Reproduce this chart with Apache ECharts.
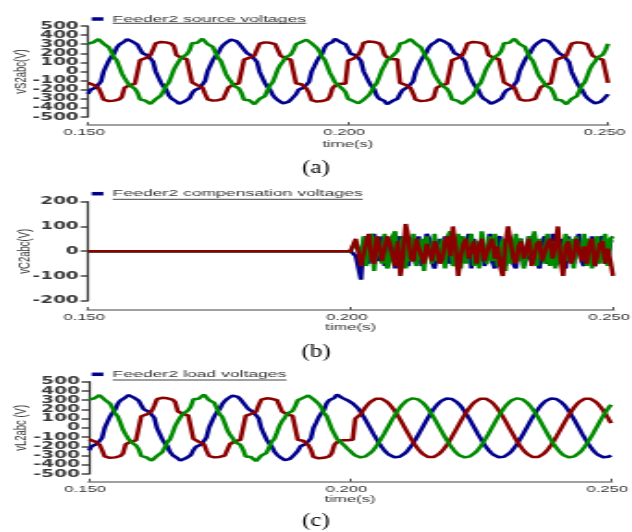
<!DOCTYPE html>
<html>
<head>
<meta charset="utf-8">
<script src="https://cdn.jsdelivr.net/npm/echarts@6.0.0/dist/echarts.min.js"></script>
<style>
html,body{margin:0;padding:0;background:#fff;overflow:hidden;}
#chart{width:341.62px;height:532px;transform:scaleX(1.85);transform-origin:0 0;}
</style>
</head>
<body>
<div id="chart"></div>
<script>
// ---- sampling grid (s) ----
const T0 = 0.150, DT = 0.0005, N = 201;
const xTicks = ['0.150', '0.200', '0.250'];

// ---- (a) Feeder2 source voltages ----
const vS2a = [
-245,-200,-185,-175,-165,-110,0,60,120,165,195,260,295,310,330,355,345,330,315,295,245,200,185,175,165,110,0,-60,-120,-165,-195,-260,-295,-310,-330,-355,-345,-330,-315,-295,
-240,-205,-190,-180,-160,-105,5,65,125,170,200,255,290,315,335,350,340,335,310,290,240,205,190,170,160,105,-5,-65,-125,-170,-200,-255,-290,-315,-335,-350,-340,-335,-310,-290,
-250,-200,-180,-175,-170,-115,0,55,115,160,190,265,300,305,325,360,350,325,320,300,250,195,180,180,170,115,0,-55,-115,-160,-190,-265,-300,-305,-325,-360,-350,-325,-320,-300,
-245,-205,-185,-170,-165,-110,0,60,120,165,200,260,295,310,330,355,345,330,315,295,245,200,185,175,165,110,0,-60,-120,-165,-195,-260,-295,-310,-330,-355,-345,-330,-315,-295,
-240,-205,-190,-180,-160,-105,5,65,125,170,200,255,290,315,335,350,340,335,310,290,240,205,190,170,160,105,-5,-65,-125,-170,-200,-255,-290,-315,-335,-350,-340,-335,-310,-290,
-250];
const vS2b = [
-125,-135,-145,-155,-180,-240,-310,-320,-325,-325,-320,-315,-305,-280,-180,-160,-150,-140,-135,-130,125,135,145,155,180,240,310,320,325,325,320,315,305,280,180,160,150,140,135,130,
-120,-130,-150,-160,-175,-245,-305,-325,-320,-330,-315,-320,-300,-285,-175,-165,-145,-145,-130,-125,130,140,150,160,175,245,305,325,320,330,315,320,300,285,175,165,145,145,130,125,
-130,-140,-140,-150,-185,-235,-315,-315,-330,-320,-325,-310,-310,-275,-185,-155,-155,-135,-140,-135,120,130,140,150,185,235,315,315,330,320,325,310,310,275,185,155,155,135,140,135,
-125,-135,-145,-155,-180,-240,-310,-320,-325,-325,-320,-315,-305,-280,-180,-160,-150,-140,-135,-130,125,135,145,155,180,240,310,320,325,325,320,315,305,280,180,160,150,140,135,130,
-120,-130,-150,-160,-175,-245,-305,-325,-320,-330,-315,-320,-300,-285,-175,-165,-145,-145,-130,-125,130,140,150,160,175,245,305,325,320,330,315,320,300,285,175,165,145,145,130,125,
-125];
const vS2c = [
305,315,320,325,355,350,305,285,265,215,155,125,55,-20,-70,-115,-150,-170,-190,-230,-305,-315,-320,-325,-355,-350,-305,-285,-265,-215,-155,-125,-55,20,70,115,150,170,190,230,
310,320,315,330,360,345,300,280,270,210,150,120,50,-25,-75,-110,-155,-175,-185,-235,-310,-320,-315,-330,-360,-345,-300,-280,-270,-210,-150,-120,-50,25,75,110,155,175,185,235,
300,315,325,320,350,355,310,290,260,220,160,130,60,-15,-65,-120,-145,-165,-195,-225,-300,-315,-325,-320,-350,-355,-310,-290,-260,-220,-160,-130,-60,15,65,120,145,165,195,225,
305,315,320,325,355,350,305,285,265,215,155,125,55,-20,-70,-115,-150,-170,-190,-230,-305,-315,-320,-325,-355,-350,-305,-285,-265,-215,-155,-125,-55,20,70,115,150,170,190,230,
310,320,315,330,360,345,300,280,270,210,150,120,50,-25,-75,-110,-155,-175,-185,-235,-310,-320,-315,-330,-360,-345,-300,-280,-270,-210,-150,-120,-50,25,75,110,155,175,185,235,
305];

// ---- (b) Feeder2 compensation voltages ----
const vC2a = [
0,0,0,0,0,0,0,0,0,0,0,0,0,0,0,0,0,0,0,0,0,0,0,0,0,0,0,0,0,0,0,0,0,0,0,0,0,0,0,0,0,0,0,0,0,0,0,0,0,0,
0,0,0,0,0,0,0,0,0,0,0,0,0,0,0,0,0,0,0,0,0,0,0,0,0,0,0,0,0,0,0,0,0,0,0,0,0,0,0,0,0,0,0,0,0,0,0,0,0,0,0,0,
-20,-20,-115,40,60,-50,-50,70,-40,-40,
60,-60,-60,50,30,-70,40,60,-30,-50,
-60,40,40,-50,60,-60,-30,70,50,-40,
-70,-70,50,-40,60,60,-50,-30,40,-60,
60,-40,-40,70,-70,50,50,-40,60,-60,
-30,70,-40,-70,50,60,-40,-60,70,40,
-50,-70,40,50,-60,-30,60,-50,70,-40,
-70,40,60,-50,-40,70,-60,-30,50,-50,
-70,60,-40,-50,40,70,-40,-60,50,-50,
60,-60,-40,50,60,-50,-30,40,40];
const vC2b = [
0,0,0,0,0,0,0,0,0,0,0,0,0,0,0,0,0,0,0,0,0,0,0,0,0,0,0,0,0,0,0,0,0,0,0,0,0,0,0,0,0,0,0,0,0,0,0,0,0,0,
0,0,0,0,0,0,0,0,0,0,0,0,0,0,0,0,0,0,0,0,0,0,0,0,0,0,0,0,0,0,0,0,0,0,0,0,0,0,0,0,0,0,0,0,0,0,0,0,0,0,0,0,
50,50,-60,-60,40,70,-30,-50,60,20,
-40,-40,60,30,-20,-60,40,-100,-20,110,
60,-30,-40,50,50,-20,-50,30,30,-40,
40,10,-50,-30,40,60,-20,100,20,-100,
-20,30,50,-30,-30,40,-50,20,50,-40,
-40,30,50,-30,20,-60,-100,30,100,40,
-30,-50,20,40,-30,-30,50,-60,-20,30,
40,-40,-40,30,50,-30,20,100,-30,-100,
20,40,-50,-20,50,50,-40,20,-50,30,
50,-60,-20,30,40,-50,10,-40,-100];
const vC2c = [
0,0,0,0,0,0,0,0,0,0,0,0,0,0,0,0,0,0,0,0,0,0,0,0,0,0,0,0,0,0,0,0,0,0,0,0,0,0,0,0,0,0,0,0,0,0,0,0,0,0,
0,0,0,0,0,0,0,0,0,0,0,0,0,0,0,0,0,0,0,0,0,0,0,0,0,0,0,0,0,0,0,0,0,0,0,0,0,0,0,0,0,0,0,0,0,0,0,0,0,0,0,0,
40,40,-30,60,-60,-60,70,-80,60,60,
-50,70,-70,-40,60,80,-50,-50,60,-70,
50,-40,70,-60,-60,50,-80,60,60,-50,
70,-40,-40,50,-70,60,80,-60,-40,70,
-70,60,-50,-50,70,-60,40,-70,80,80,
-50,60,-40,70,-60,-60,50,-80,60,-50,
-50,70,-40,50,-70,-70,60,-40,80,-60,
50,50,-50,70,-60,40,-70,60,-50,-50,
70,-40,50,-70,60,60,-40,70,-60,50,
-70,40,60,-50,-50,70,-60,50,60];

// ---- (c) Feeder2 load voltages ----
const vL2a = [
-245,-200,-185,-175,-165,-110,0,60,120,165,195,260,295,310,330,355,345,330,315,295,245,200,185,175,165,110,0,-60,-120,-165,-195,-260,-295,-310,-330,-355,-345,-330,-315,-295,
-240,-205,-190,-180,-160,-105,5,65,125,170,200,255,290,315,335,350,340,335,310,290,240,205,190,170,160,105,-5,-65,-125,-170,-200,-255,-290,-315,-335,-350,-340,-335,-310,-290,
-250,-200,-180,-175,-170,-115,0,55,115,160,190,265,300,305,325,360,350,325,320,300,
280,265,245,
214,174,130,83,33,-17,-67,-115,-160,-201,-238,-268,-292,-309,-318,-320,-313,-299,-277,-249,-214,-174,-130,-83,-33,17,67,115,160,201,238,268,292,309,318,320,313,299,
277,249,214,174,130,83,33,-17,-67,-115,-160,-201,-238,-268,-292,-309,-318,-320,-313,-299,-277,-249,-214,-174,-130,-83,-33,17,67,115,160,201,238,268,292,309,318,320,313,299,
277,249,214,174,130,83,33,-17,-67,-115,-160,-201,-238,-268,-292,-309,-318,-320,-313,-299];
const vL2b = [
-125,-135,-145,-155,-180,-240,-310,-320,-325,-325,-320,-315,-305,-280,-180,-160,-150,-140,-135,-130,125,135,145,155,180,240,310,320,325,325,320,315,305,280,180,160,150,140,135,130,
-120,-130,-150,-160,-175,-245,-305,-325,-320,-330,-315,-320,-300,-285,-175,-165,-145,-145,-130,-125,130,140,150,160,175,245,305,325,320,330,315,320,300,285,175,165,145,145,130,125,
-130,-140,-140,-150,-185,-235,-315,-315,-330,-320,-325,-310,-310,-275,-185,-155,-155,-135,-140,-135,
-130,-130,100,115,
145,188,226,259,285,304,316,320,316,304,285,259,226,188,145,99,50,0,-50,-99,-145,-188,-226,-259,-285,-304,-316,-320,-316,-304,-285,-259,-226,-188,-145,-99,-50,0,
50,99,145,188,226,259,285,304,316,320,316,304,285,259,226,188,145,99,50,0,-50,-99,-145,-188,-226,-259,-285,-304,-316,-320,-316,-304,-285,-259,-226,-188,-145,-99,-50,0,
50,99,145,188,226,259,285,304,316,320,316,304,285,259,226,188,145,99,50];
const vL2c = [
305,315,320,325,355,350,305,285,265,215,155,125,55,-20,-70,-115,-150,-170,-190,-230,-305,-315,-320,-325,-355,-350,-305,-285,-265,-215,-155,-125,-55,20,70,115,150,170,190,230,
310,320,315,330,360,345,300,280,270,210,150,120,50,-25,-75,-110,-155,-175,-185,-235,-310,-320,-315,-330,-360,-345,-300,-280,-270,-210,-150,-120,-50,25,75,110,155,175,185,235,
300,315,325,320,350,355,310,290,260,220,160,130,60,-15,-65,-120,-145,-165,-195,-225,
-250,
-277,-299,-313,-320,-318,-309,-292,-268,-238,-201,-160,-115,-67,-17,33,83,130,174,214,249,277,299,313,320,318,309,292,268,238,201,160,115,67,17,-33,-83,-130,-174,-214,-249,
-277,-299,-313,-320,-318,-309,-292,-268,-238,-201,-160,-115,-67,-17,33,83,130,174,214,249,277,299,313,320,318,309,292,268,238,201,160,115,67,17,-33,-83,-130,-174,-214,-249,
-277,-299,-313,-320,-318,-309,-292,-268,-238,-201,-160,-115,-67,-17,33,83,130,174,214,249];

const legendNames = ['Feeder2 source voltages', 'Feeder2 compensation voltages', 'Feeder2 load voltages'];
const yNames = ['vS2abc(V)', 'vC2abc(V)', 'vL2abc (V)'];
const panelLabels = ['(a)', '(b)', '(c)'];

// ---- layout (unscaled coordinates; container is stretched 1.85x horizontally) ----
const SX = 1.85;
const BLUE = '#00008c', RED = '#8b0000', GREEN = '#008a00';
const times = Array.from({length: N}, (_, i) => +(T0 + i * DT).toFixed(4));
const pair = arr => times.map((t, i) => [t, arr[i]]);

const grids = [
  {left: 88 / SX, width: 520 / SX, top: 26, height: 91, outerBoundsMode: 'none', containLabel: false},
  {left: 88 / SX, width: 525 / SX, top: 201.7, height: 99, outerBoundsMode: 'none', containLabel: false},
  {left: 89 / SX, width: 522 / SX, top: 381.7, height: 92.3, outerBoundsMode: 'none', containLabel: false}
];
const xOffsets = [8, 9.3, 7.7];
const xNameGaps = [15, 13, 13];
const yNameGaps = [31, 29, 32];
const yRanges = [[-500, 500], [-200, 200], [-500, 500]];
const legendTops = [14, 188.7, 369.3];
const underlineY = [23.3, 199.3, 380];
const labelY = [168, 352, 521];

const FONT = 'Liberation Sans';
const yLabelStyle = {margin: 5, fontSize: 10, fontWeight: 'bold', fontFamily: 'DejaVu Sans', color: '#3a3a3a', hideOverlap: false};
const yTickStyle = {show: true, length: 4, lineStyle: {color: '#444', width: 1.5}};

const xAxes = grids.map((g, i) => ({
  type: 'value', gridIndex: i, min: 0.15, max: 0.25, interval: 0.05, offset: xOffsets[i],
  axisLine: {show: true, onZero: false, lineStyle: {color: '#a0a0a0', width: 2.2}},
  axisTick: {show: true, inside: true, length: 3, lineStyle: {color: '#555', width: 1}},
  axisLabel: {margin: 3, fontSize: 9, fontFamily: FONT, color: '#333', padding: [0, 4, 0, 0],
    showMinLabel: true, showMaxLabel: true, hideOverlap: false,
    formatter: v => xTicks[Math.round((v - 0.15) / 0.05)]},
  splitLine: {show: false},
  name: 'time(s)', nameLocation: 'middle', nameGap: xNameGaps[i],
  nameTextStyle: {fontSize: 9, fontFamily: FONT, color: '#333'}
}));
// main y axes (inner tick labels; the dense 100-V steps in (a)/(c) keep their end labels on a companion axis)
const yAxes = grids.map((g, i) => {
  const dense = i !== 1;
  return {
    type: 'value', gridIndex: i, min: yRanges[i][0], max: yRanges[i][1], interval: 100,
    axisLine: {show: true, onZero: false, lineStyle: {color: '#333', width: 1.2}},
    axisTick: yTickStyle,
    axisLabel: Object.assign({}, yLabelStyle, {showMinLabel: !dense, showMaxLabel: !dense}),
    splitLine: {show: false},
    name: yNames[i], nameLocation: 'middle', nameGap: yNameGaps[i], nameRotate: 90, nameMoveOverlap: false,
    nameTextStyle: {fontSize: 9.5, fontFamily: FONT, color: '#333'}
  };
});
// companion axes carrying the end labels (-500 / 500) of panels (a) and (c)
[0, 2].forEach(i => {
  yAxes.push({
    type: 'value', gridIndex: i, min: yRanges[i][0], max: yRanges[i][1], interval: 100, position: 'left',
    axisLine: {show: false, onZero: false},
    axisTick: Object.assign({}, yTickStyle, {customValues: [yRanges[i][0], yRanges[i][1]]}),
    axisLabel: Object.assign({}, yLabelStyle, {customValues: [yRanges[i][0], yRanges[i][1]], showMinLabel: true, showMaxLabel: true}),
    splitLine: {show: false}
  });
});

const panels = [[vS2a, vS2b, vS2c], [vC2a, vC2b, vC2c], [vL2a, vL2b, vL2c]];
const series = [];
panels.forEach((p, i) => {
  const sBlue = {name: legendNames[i], type: 'line', xAxisIndex: i, yAxisIndex: i, data: pair(p[0]),
    showSymbol: false, symbol: 'none', lineStyle: {width: 2.5, color: BLUE}, itemStyle: {color: BLUE}};
  const sRed = {name: 'red' + i, type: 'line', xAxisIndex: i, yAxisIndex: i, data: pair(p[1]),
    showSymbol: false, symbol: 'none', lineStyle: {width: 2.5, color: RED}, itemStyle: {color: RED}};
  const sGreen = {name: 'green' + i, type: 'line', xAxisIndex: i, yAxisIndex: i, data: pair(p[2]),
    showSymbol: false, symbol: 'none', lineStyle: {width: 2.5, color: GREEN}, itemStyle: {color: GREEN}};
  if (i === 1) series.push(sBlue, sGreen, sRed); else series.push(sBlue, sRed, sGreen);
});

const LEG_LEFT = 91.7 / SX, ICON_W = 6.3, ICON_H = 3.5, LEG_FS = 9.5;
const legends = legendNames.map((n, i) => ({
  data: [n], left: LEG_LEFT, top: legendTops[i], padding: 0, itemWidth: ICON_W, itemHeight: ICON_H,
  icon: 'rect', selectedMode: false,
  textStyle: {fontSize: LEG_FS, fontFamily: FONT, color: '#333'}
}));

const mctx = document.createElement('canvas').getContext('2d');
mctx.font = LEG_FS + 'px "' + FONT + '"';
const graphics = [];
legendNames.forEach((n, i) => {
  const x0 = LEG_LEFT + ICON_W + 5;
  const w = mctx.measureText(n).width;
  graphics.push({type: 'line', shape: {x1: x0, y1: underlineY[i], x2: x0 + w, y2: underlineY[i]},
    style: {stroke: '#444', lineWidth: 1}, silent: true});
  graphics.push({type: 'text', x: 316 / SX, y: labelY[i], scaleX: 0.75,
    style: {text: panelLabels[i], font: '18px "Liberation Serif"', fill: '#000', align: 'center', verticalAlign: 'middle'}});
});

const chart = echarts.init(document.getElementById('chart'), null, {renderer: 'canvas'});
chart.setOption({
  animation: false,
  backgroundColor: '#fff',
  grid: grids,
  xAxis: xAxes,
  yAxis: yAxes,
  legend: legends,
  series: series,
  graphic: graphics
});
</script>
</body>
</html>
